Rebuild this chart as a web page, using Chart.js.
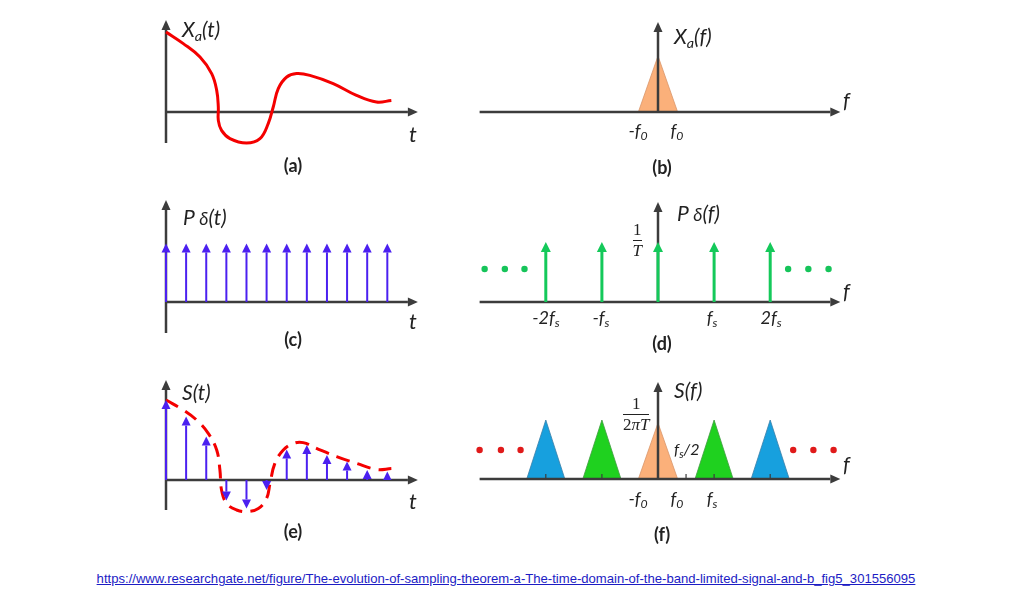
<!DOCTYPE html>
<html>
<head>
<meta charset="utf-8">
<script src="https://cdn.jsdelivr.net/npm/chart.js@4.4.1/dist/chart.umd.min.js"></script>
<style>
  body { margin: 0; background: #fff; width: 1012px; height: 608px; position: relative; overflow: hidden; font-family: Lato, "Open Sans", sans-serif; }
  canvas { position: absolute; }
  .lb { position: absolute; line-height: 1; white-space: nowrap; font-style: italic; color: #222; }
  .lb sub { font-size: 0.68em; vertical-align: -0.28em; line-height: 0; }
  .cap { font-style: normal; font-weight: bold; transform: translateX(-50%); }
  .cen { transform: translateX(-50%); }
  .frac { position: absolute; font-family: "Liberation Serif", serif; color: #222; text-align: center; line-height: 1; }
  .frac .den { border-top: 1.3px solid #222; padding-top: 1px; }
  .frac .num { padding-bottom: 2px; }
  #link { position: absolute; left: 0; top: 571px; width: 1012px; text-align: center; font: 13.1px "Liberation Sans", Arial, sans-serif; }
  #link a { color: #1c1cc4; }
</style>
</head>
<body>
<canvas id="panelA"></canvas>
<canvas id="panelB"></canvas>
<canvas id="panelC"></canvas>
<canvas id="panelD"></canvas>
<canvas id="panelE"></canvas>
<canvas id="panelF"></canvas>
<div id="link"><a href="https://www.researchgate.net/figure/The-evolution-of-sampling-theorem-a-The-time-domain-of-the-band-limited-signal-and-b_fig5_301556095">https://www.researchgate.net/figure/The-evolution-of-sampling-theorem-a-The-time-domain-of-the-band-limited-signal-and-b_fig5_301556095</a></div>

<script>
// --- DATOS (t en periodos de muestreo, f en múltiplos de fs) ---

// (a) señal continua Xa(t)
const tCurvaA = [0, 0.86, 1.69, 2.27, 2.52, 2.6, 2.6, 2.76, 3.18, 4.0, 4.67, 5.08, 5.33, 5.58, 6.0, 6.49, 7.15, 8.31, 9.47, 10.46, 11.2];
const yCurvaA = [4.0, 3.42, 2.75, 1.92, 1.08, 0.25, -0.42, -0.92, -1.33, -1.55, -1.33, -0.58, 0.25, 1.17, 1.75, 1.92, 1.83, 1.42, 0.83, 0.5, 0.58];

// (b) espectro Xa(f)
const fEspectroB = [-0.35, 0, 0.35];
const yEspectroB = [0, 2.8, 0];

// (c) tren de impulsos P(t)
const tImpulsos = [0, 1, 2, 3, 4, 5, 6, 7, 8, 9, 10, 11];
const alturaImpulsosC = [2.93, 2.93, 2.93, 2.93, 2.93, 2.93, 2.93, 2.93, 2.93, 2.93, 2.93, 2.93];

// (d) espectro del tren P(f)
const fImpulsosD = [-2, -1, 0, 1, 2];
const alturaImpulsosD = [3, 3, 3, 3, 3];
const fPuntosD = [-3.09, -2.73, -2.38, 2.32, 2.68, 3.04];
const yPuntosD = [1.65, 1.65, 1.65, 1.65, 1.65, 1.65];
const etiquetasD = ['-2f<sub>s</sub>', '-f<sub>s</sub>', 'f<sub>s</sub>', '2f<sub>s</sub>'];

// (e) señal muestreada S(t)
const muestrasE = [4.0, 3.17, 2.17, -1.03, -1.42, -0.5, 1.53, 1.75, 1.25, 0.92, 0.5, 0.42];
const tCurvaE = [0, 0.86, 1.52, 2.1, 2.52, 2.68, 2.76, 3.01, 3.51, 4.01, 4.59, 5.0, 5.17, 5.41, 5.83, 6.33, 6.82, 7.48, 8.48, 9.47, 10.46, 11.2];
const yCurvaE = [4.0, 3.5, 3.0, 2.33, 1.5, 0.5, -0.5, -1.17, -1.5, -1.58, -1.42, -0.92, -0.17, 0.83, 1.5, 1.83, 1.87, 1.58, 1.17, 0.83, 0.53, 0.57];

// (f) espectro S(f): réplicas en k·fs
const centrosF = [-2, -1, 0, 1, 2];
const alturasF = [2.95, 2.95, 2.8, 2.95, 2.95];
const semianchoF = [0.34, 0.34, 0.35, 0.34, 0.34];
const coloresF = ['#17a0de', '#1fd11f', '#fbb07a', '#1fd11f', '#17a0de'];
const bordesF = ['#3a7fa8', '#3f9a3f', '#d9956a', '#3f9a3f', '#3a7fa8'];
const fPuntosF = [-3.18, -2.80, -2.45, 2.41, 2.77, 3.13];
const yPuntosF = [1.45, 1.45, 1.45, 1.45, 1.45, 1.45];
const marcasF = [-2, -1, 1, 2, 0.5];

const colorEje = '#3c3c3c';
const azul = '#4b20f0';
const verde = '#14c95a';
const rojo = '#f40000';

// --- DIBUJO DE EJES Y FLECHAS ---
function flecha(ctx, x1, y1, x2, y2, largo, ancho) {
  const dist = Math.hypot(x2 - x1, y2 - y1);
  if (dist < 0.5) return;
  if (largo > dist) { ancho = ancho * dist / largo; largo = dist; }
  const ang = Math.atan2(y2 - y1, x2 - x1);
  const bx = x2 - Math.cos(ang) * largo, by = y2 - Math.sin(ang) * largo;
  ctx.beginPath(); ctx.moveTo(x1, y1); ctx.lineTo(bx, by); ctx.stroke();
  ctx.beginPath();
  ctx.moveTo(x2, y2);
  ctx.lineTo(bx + Math.sin(ang) * ancho / 2, by - Math.cos(ang) * ancho / 2);
  ctx.lineTo(bx - Math.sin(ang) * ancho / 2, by + Math.cos(ang) * ancho / 2);
  ctx.closePath(); ctx.fill();
}

function dibujarEjes(chart, o) {
  const { ctx } = chart;
  const x = chart.scales.x, y = chart.scales.y;
  const x0 = x.getPixelForValue(0), y0 = y.getPixelForValue(0);
  ctx.save();
  ctx.strokeStyle = ctx.fillStyle = colorEje;
  ctx.lineWidth = 2.5;
  flecha(ctx, x.getPixelForValue(o.xDesde), y0, x.getPixelForValue(o.xHasta), y0, 10, 9);
  flecha(ctx, x0, y.getPixelForValue(o.yDesde), x0, y.getPixelForValue(o.yHasta), 10, 9);
  ctx.lineWidth = 1.2;
  (o.marcas || []).forEach(v => {
    const px = x.getPixelForValue(v);
    ctx.beginPath(); ctx.moveTo(px, y0); ctx.lineTo(px, y0 - 5); ctx.stroke();
  });
  ctx.restore();
}

function dibujarImpulsos(chart) {
  const { ctx } = chart;
  const y0 = chart.scales.y.getPixelForValue(0);
  chart.data.datasets.forEach((ds, i) => {
    if (!ds.impulso) return;
    ctx.save();
    ctx.strokeStyle = ctx.fillStyle = ds.borderColor;
    ctx.lineWidth = ds.grosor;
    chart.getDatasetMeta(i).data.forEach(p => flecha(ctx, p.x, y0, p.x, p.y, ds.cabeza, ds.cabeza));
    ctx.restore();
  });
}

const pluginEjes = {
  id: 'ejes',
  beforeDatasetsDraw(chart, args, opts) { if (!opts.encima) dibujarEjes(chart, opts); },
  afterDatasetsDraw(chart, args, opts) {
    if (opts.encima) dibujarEjes(chart, opts);
    dibujarImpulsos(chart);
  }
};

// crea un panel: rect en la página, origen en píxeles y escala px por unidad
function panel(id, rect, origen, escala, datasets, ejes) {
  const cv = document.getElementById(id);
  cv.width = rect[2]; cv.height = rect[3];
  cv.style.left = rect[0] + 'px'; cv.style.top = rect[1] + 'px';
  const [ox, oy] = origen, [sx, sy] = escala;
  return new Chart(cv, {
    type: 'line',
    data: { datasets },
    options: {
      responsive: false, animation: false, events: [],
      layout: { padding: 0, autoPadding: false },
      plugins: { legend: { display: false }, tooltip: { enabled: false }, ejes },
      scales: {
        x: { type: 'linear', display: false, bounds: 'data', min: (rect[0] - ox) / sx, max: (rect[0] + rect[2] - ox) / sx },
        y: { type: 'linear', display: false, bounds: 'data', min: (oy - rect[1] - rect[3]) / sy, max: (oy - rect[1]) / sy }
      }
    },
    plugins: [pluginEjes]
  });
}

const xy = (xs, ys) => xs.map((v, i) => ({ x: v, y: ys[i] }));

function curva(xs, ys, dash) {
  return { data: xy(xs, ys), borderColor: rojo, borderWidth: 3, borderDash: dash || [], pointRadius: 0, tension: 0.4, fill: false };
}
function impulsos(xs, ys, color, grosor, cabeza) {
  return { data: xy(xs, ys), showLine: false, pointRadius: 0, borderColor: color, impulso: true, grosor, cabeza };
}
function puntos(xs, ys, color) {
  return { data: xy(xs, ys), showLine: false, pointRadius: 3.2, pointBackgroundColor: color, pointBorderWidth: 0 };
}
function triangulo(c, h, w, color, borde) {
  return { data: [{ x: c - w, y: 0 }, { x: c, y: h }, { x: c + w, y: 0 }], borderColor: borde, borderWidth: 0.8, backgroundColor: color, fill: 'origin', pointRadius: 0, tension: 0 };
}

const escT = [20.12, 20];
const escF = [56.1, 20];

panel('panelA', [150, 12, 280, 140], [166, 112], escT, [curva(tCurvaA, yCurvaA)],
  { xDesde: 0, xHasta: 12.52, yDesde: -1.55, yHasta: 4.6 });
panel('panelB', [470, 14, 380, 104], [658, 112], escF,
  [triangulo(0, yEspectroB[1], fEspectroB[2], '#fbb07a', '#d9956a')],
  { xDesde: -3.18, xHasta: 3.25, yDesde: 0, yHasta: 4.5, encima: true });
panel('panelC', [150, 192, 280, 146], [166, 302], escT,
  [impulsos(tImpulsos, alturaImpulsosC, azul, 2, 9)],
  { xDesde: 0, xHasta: 12.52, yDesde: -1.55, yHasta: 5.1 });
panel('panelD', [470, 194, 380, 114], [658, 302], escF,
  [impulsos(fImpulsosD, alturaImpulsosD, verde, 3, 10), puntos(fPuntosD, yPuntosD, '#16c45a')],
  { xDesde: -3.18, xHasta: 3.25, yDesde: 0, yHasta: 5.0 });
panel('panelE', [150, 372, 280, 145], [166, 480], escT,
  [curva(tCurvaE, yCurvaE, [14, 8]), impulsos(tImpulsos, muestrasE, azul, 2, 9)],
  { xDesde: 0, xHasta: 12.52, yDesde: -1.5, yHasta: 5.0 });
panel('panelF', [470, 374, 380, 112], [658, 479], escF,
  centrosF.map((c, i) => triangulo(c, alturasF[i], semianchoF[i], coloresF[i], bordesF[i]))
    .concat([puntos(fPuntosF, yPuntosF, '#e01a1a')]),
  { xDesde: -3.18, xHasta: 3.25, yDesde: 0, yHasta: 4.85, encima: true, marcas: marcasF });

// --- TEXTOS ---
function texto(html, x, base, size, clase) {
  const el = document.createElement('div');
  el.className = 'lb' + (clase ? ' ' + clase : '');
  el.innerHTML = html;
  el.style.left = x + 'px';
  el.style.top = (base - size * 0.82) + 'px';
  el.style.fontSize = size + 'px';
  document.body.appendChild(el);
}
function fraccion(num, den, cx, lineaY, size) {
  const el = document.createElement('div');
  el.className = 'frac';
  el.style.fontSize = size + 'px';
  el.innerHTML = '<div class="num">' + num + '</div><div class="den">' + den + '</div>';
  document.body.appendChild(el);
  const alto = el.querySelector('.num').offsetHeight;
  el.style.left = (cx - el.offsetWidth / 2) + 'px';
  el.style.top = (lineaY - alto) + 'px';
}
const delta = '<span style="font-size:0.85em">δ</span>';

texto('X<sub>a</sub>(t)', 182, 35, 21);
texto('t', 409, 141, 22);
texto('(a)', 293, 171, 18, 'cap');

texto('X<sub>a</sub>(f)', 674, 42, 21);
texto('f', 843, 106, 21);
texto('-f<sub>0</sub>', 638, 136, 18, 'cen');
texto('f<sub>0</sub>', 677, 136, 18, 'cen');
texto('(b)', 662, 173, 18, 'cap');

texto('P ' + delta + '(t)', 183, 223, 21);
texto('t', 409, 328, 22);
texto('(c)', 293, 345, 18, 'cap');

texto('P ' + delta + '(f)', 677, 219, 21);
texto('f', 843, 297, 21);
[546, 601, 712, 771].forEach((x, i) => texto(etiquetasD[i], x, 323, 18, 'cen'));
fraccion('1', '<i>T</i>', 637, 240, 17);
texto('(d)', 662, 349, 18, 'cap');

texto('S(t)', 182, 398, 21);
texto('t', 409, 508, 22);
texto('(e)', 293, 537, 18, 'cap');

texto('S(f)', 674, 396, 21);
fraccion('1', '2<i>πT</i>', 636, 414, 17);
texto('f<sub>s</sub>/2', 674, 454, 16);
texto('-f<sub>0</sub>', 638, 504, 18, 'cen');
texto('f<sub>0</sub>', 677, 504, 18, 'cen');
texto('f<sub>s</sub>', 712, 504, 18, 'cen');
texto('f', 843, 470, 21);
texto('(f)', 662, 540, 18, 'cap');
</script>
</body>
</html>
